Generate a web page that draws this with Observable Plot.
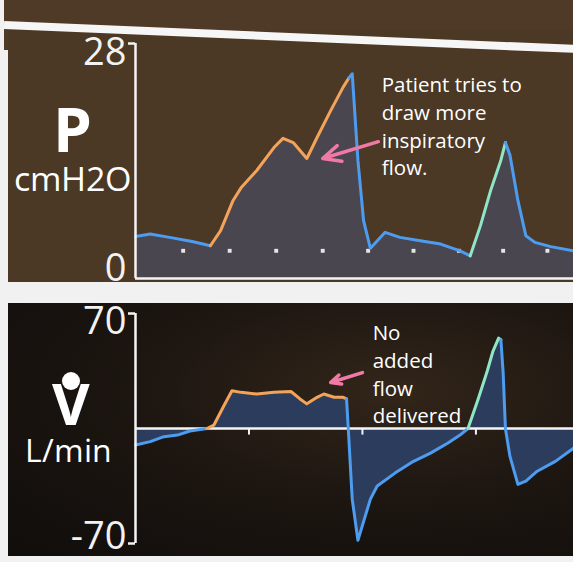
<!DOCTYPE html>
<html><head><meta charset="utf-8">
<script src="https://cdn.jsdelivr.net/npm/d3@7"></script>
<script src="https://cdn.jsdelivr.net/npm/@observablehq/plot@0.6"></script>
<style>
@font-face{font-family:"LabelSans";src:local("Open Sans Regular"),local("OpenSans-Regular"),local("Open Sans");font-weight:400;ascent-override:74%;descent-override:2%;line-gap-override:0%;}
@font-face{font-family:"LabelSans";src:local("Open Sans Bold"),local("OpenSans-Bold"),local("Open Sans");font-weight:700;ascent-override:74%;descent-override:2%;line-gap-override:0%;}
html,body{margin:0;padding:0;background:#f2f2f2;}
#root{position:relative;width:573px;height:562px;overflow:hidden;background:#f1f1f1;font-family:"Open Sans",sans-serif;}
.lbl{position:absolute;left:0;width:144px;text-align:center;color:#fff;line-height:1;font-family:"LabelSans","Open Sans",sans-serif;}
</style></head><body><div id="root"></div>
<script>
// ---- Pressure trace (cmH2O) ----
const timeP = [0, 0.13, 0.3, 0.5, 0.66, 0.75, 0.86, 0.93, 1.07, 1.22, 1.30, 1.39, 1.51, 1.60, 1.72, 1.83, 1.88, 1.91, 1.96, 2.01, 2.07, 2.20, 2.33, 2.51, 2.69, 2.86, 2.95, 3.04, 3.13, 3.22, 3.26, 3.30, 3.37, 3.44, 3.52, 3.66, 3.86];
const pressure = [5.0, 5.3, 4.9, 4.4, 3.9, 5.7, 9.3, 10.8, 12.9, 15.6, 16.7, 16.2, 14.3, 16.8, 20.0, 22.8, 23.9, 24.4, 14.1, 6.9, 3.6, 5.5, 4.9, 4.5, 4.1, 3.3, 2.7, 6.3, 10.5, 14.1, 16.2, 14.7, 9.3, 5.1, 4.3, 3.8, 3.3];
const phaseP = ["exp","exp","exp","exp",
  "insp","insp","insp","insp","insp","insp","insp","insp","insp","insp","insp","insp",
  "exp","exp","exp","exp","exp","exp","exp","exp","exp","exp",
  "trig","trig","trig","trig",
  "exp","exp","exp","exp","exp","exp","exp"];
// PEEP marker dots
const dotT = [0.42, 0.83, 1.24, 1.65, 2.05, 2.45, 2.85, 3.24, 3.63];
const peepLevel = 3.3;

// ---- Flow trace (L/min) ----
const timeF = [0, 0.13, 0.25, 0.37, 0.48, 0.63, 0.69, 0.78, 0.85, 0.93, 1.07, 1.22, 1.37, 1.45, 1.51, 1.60, 1.66, 1.75, 1.83, 1.86, 1.88, 1.91, 1.96, 2.0, 2.07, 2.13, 2.29, 2.45, 2.60, 2.75, 2.86, 2.93, 3.02, 3.10, 3.15, 3.20, 3.22, 3.24, 3.26, 3.30, 3.37, 3.44, 3.54, 3.70, 3.86];
const flow = [-10, -8, -5, -4, -1.5, 0, 2, 14, 23, 22, 21, 22, 22.5, 18, 15, 19, 21, 19, 19, 18, -6, -43, -68, -59, -43, -35, -27, -20, -15, -9, -4, 0, 18, 35, 47, 55, 54, 34, 0, -17, -34, -32, -26, -20, -12];
const phaseF = ["exp","exp","exp","exp","exp",
  "insp","insp","insp","insp","insp","insp","insp","insp","insp","insp","insp","insp","insp","insp",
  "exp","exp","exp","exp","exp","exp","exp","exp","exp","exp","exp","exp",
  "trig","trig","trig","trig","trig",
  "exp","exp","exp","exp","exp","exp","exp","exp","exp"];

// axes
const xDomain = [0, 3.86];
const xTicks = [1, 2, 3];
const yTicksP = [0, 28];
const yTicksF = [-70, 70];

// annotations
const noteP = [{t: 2.17, v: 24.6, text: "Patient tries to\ndraw more\ninspiratory\nflow."}];
const arrowP = [{t1: 2.14, v1: 16.3, t2: 1.65, v2: 14.3}];
const noteF = [{t: 2.09, v: 66, text: "No\nadded\nflow\ndelivered"}];
const arrowF = [{t1: 2.0, v1: 34, t2: 1.72, v2: 28}];

const phaseColor = {exp: "#4d9cf0", insp: "#f4a45a", trig: "#8fe6c6"};

function rows(ts, vs, ph) { return ts.map((t, i) => ({t, v: vs[i], phase: ph[i]})); }
function segs(ts, vs, ph) {
  const out = []; let seg = 0;
  for (let i = 0; i < ts.length; i++) {
    if (i > 0 && ph[i] !== ph[i - 1]) { out.push({t: ts[i], v: vs[i], phase: ph[i - 1], seg}); seg++; }
    out.push({t: ts[i], v: vs[i], phase: ph[i], seg});
  }
  return out;
}

const root = document.getElementById("root");
function addDiv(css) { const d = document.createElement("div"); d.style.cssText = css; root.appendChild(d); return d; }

// top strip
addDiv("position:absolute;left:4px;top:0;width:569px;height:50px;background:#4e3a26;");

const font = "Open Sans, sans-serif";
const tickText = (ticks, which, anchor, dy) => Plot.text([ticks[which]], {frameAnchor: "left", y: d => d, text: d => String(d),
  textAnchor: "end", dx: -9, dy, lineAnchor: anchor, fontSize: 38, fill: "#f2f2f2", fontFamily: font});
const arrowOpts = {x1: "t1", y1: "v1", x2: "t2", y2: "v2", stroke: "#f07aa6", strokeWidth: 3.5, headLength: 12, headAngle: 50, bend: 0};

const plotP = Plot.plot({
  width: 565, height: 252, marginLeft: 127, marginRight: 0, marginTop: 13, marginBottom: 4,
  x: {domain: xDomain, axis: null},
  y: {domain: [0, 28], axis: null},
  style: {background: "#4b3825", overflow: "visible", fontFamily: font},
  marks: [
    Plot.areaY(rows(timeP, pressure, phaseP), {x: "t", y: "v", fill: "#4a4650"}),
    Plot.dot(dotT, {x: d => d, y: () => peepLevel, symbol: "square", r: 2.2, fill: "#e6e6e6"}),
    Plot.line(segs(timeP, pressure, phaseP), {x: "t", y: "v", z: "seg", stroke: d => phaseColor[d.phase], strokeWidth: 3, strokeLinejoin: "round"}),
    Plot.ruleX([0], {stroke: "#f4f4f4", strokeWidth: 2.5}),
    Plot.ruleY([0], {stroke: "#f4f4f4", strokeWidth: 2.5}),
    Plot.axisY([28], {anchor: "left", tickSize: 7, tickFormat: () => "", color: "#f4f4f4", strokeWidth: 2.5}),
    tickText(yTicksP, 1, "top", -5),
    tickText(yTicksP, 0, "bottom", 2),
    Plot.arrow(arrowP, arrowOpts),
    Plot.text(noteP, {x: "t", y: "v", text: "text", textAnchor: "start", lineAnchor: "top", lineHeight: 1.36, fontSize: 20.5, fill: "#ffffff", fontFamily: font})
  ]
});

const plotF = Plot.plot({
  width: 565, height: 253, marginLeft: 127, marginRight: 0, marginTop: 10, marginBottom: 13,
  x: {domain: xDomain, axis: null},
  y: {domain: [-70, 70], axis: null},
  style: {background: "radial-gradient(ellipse at 68% 35%, #33261a 0%, #1d1611 45%, #100d0b 100%)", overflow: "visible", fontFamily: font},
  marks: [
    Plot.areaY(rows(timeF, flow, phaseF), {x: "t", y: "v", fill: "#2c3c5c"}),
    Plot.ruleY([0], {stroke: "#f4f4f4", strokeWidth: 2.5}),
    Plot.ruleX(xTicks, {x: d => d, y1: () => 0, y2: () => -4, stroke: "#f4f4f4", strokeWidth: 2}),
    Plot.line(segs(timeF, flow, phaseF), {x: "t", y: "v", z: "seg", stroke: d => phaseColor[d.phase], strokeWidth: 3, strokeLinejoin: "round"}),
    Plot.ruleX([0], {stroke: "#f4f4f4", strokeWidth: 2.5}),
    Plot.axisY(yTicksF, {anchor: "left", tickSize: 7, tickFormat: () => "", color: "#f4f4f4", strokeWidth: 2.5}),
    tickText(yTicksF, 1, "top", -6),
    tickText(yTicksF, 0, "bottom", 5),
    Plot.arrow(arrowF, arrowOpts),
    Plot.text(noteF, {x: "t", y: "v", text: "text", textAnchor: "start", lineAnchor: "top", lineHeight: 1.36, fontSize: 20.5, fill: "#ffffff", fontFamily: font})
  ]
});

const p1 = addDiv("position:absolute;left:8px;top:30px;");
p1.appendChild(plotP);
const p2 = addDiv("position:absolute;left:8px;top:303px;");
p2.appendChild(plotF);

// sloped white frame bar at top
addDiv("position:absolute;left:4px;top:21px;width:600px;height:8px;background:#f6f6f6;transform:rotate(2.4deg);transform-origin:0 50%;");

// panel labels
const lab = (txt, css) => { const d = document.createElement("div"); d.className = "lbl"; d.style.cssText = css; d.textContent = txt; root.appendChild(d); };
lab("P", "top:99px;font-size:62px;font-weight:700;");
lab("cmH2O", "top:162px;font-size:34px;");
lab("V", "top:375px;font-size:58px;font-weight:700;left:-1px;");
addDiv("position:absolute;left:62px;top:372px;width:18px;height:18px;border-radius:50%;background:#fff;");
lab("L/min", "top:435px;font-size:32px;left:-4px;");
</script></body></html>
